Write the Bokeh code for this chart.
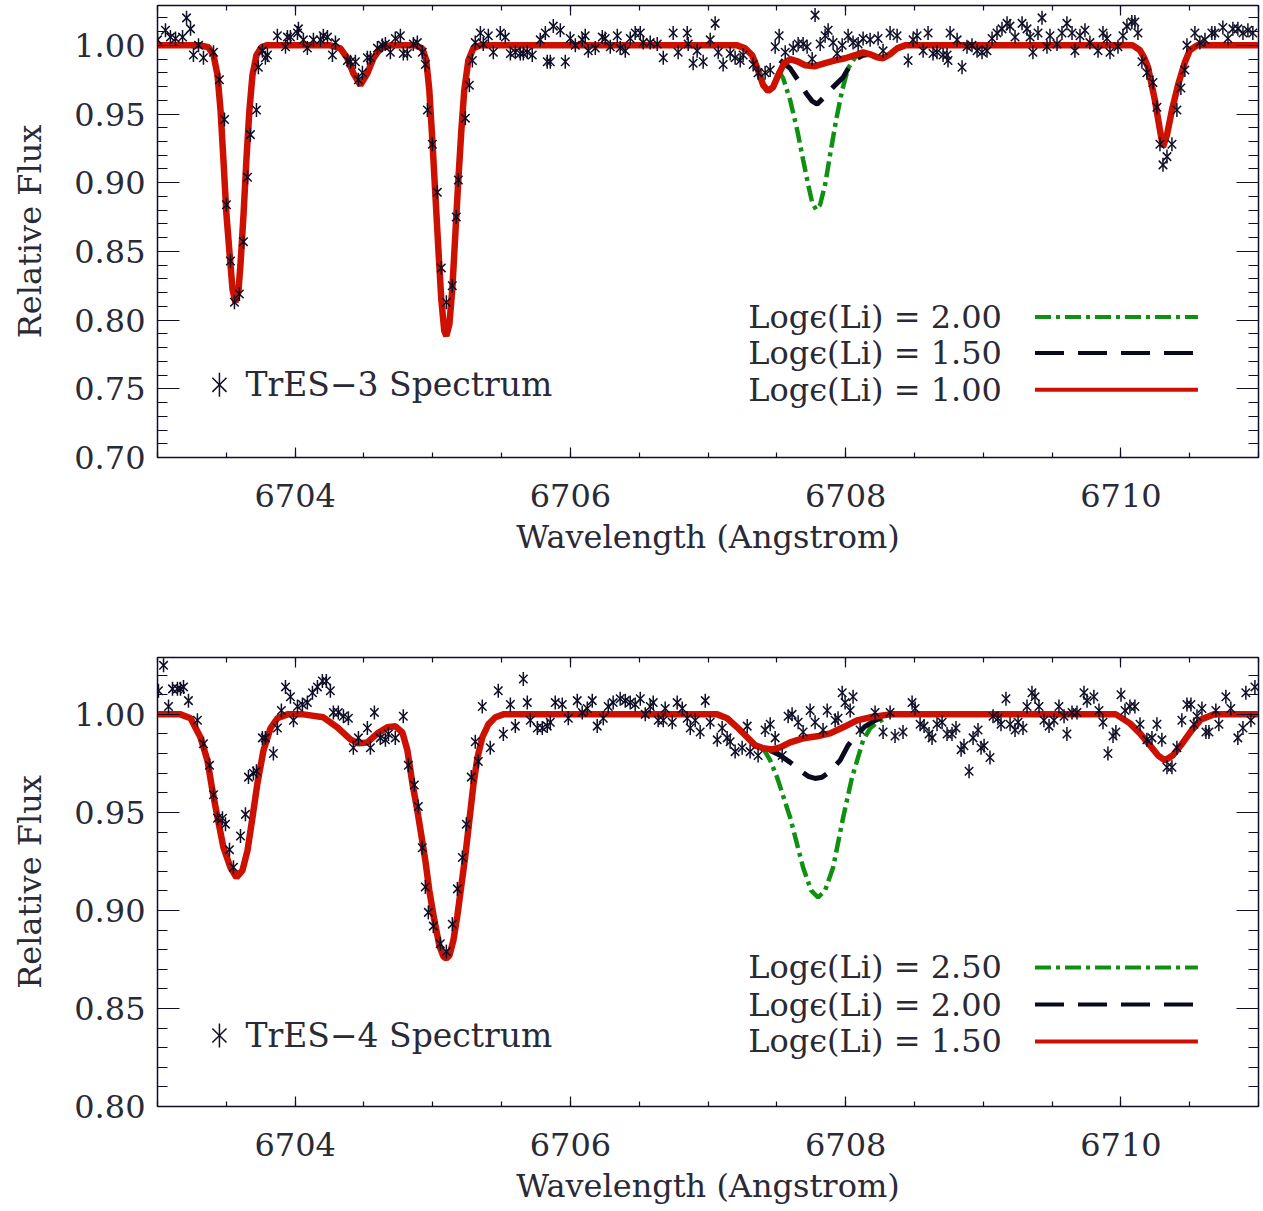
from bokeh.plotting import figure
from bokeh.models import (LinearAxis, SingleIntervalTicker, PrintfTickFormatter, Label,
                          CustomLabelingPolicy)
from bokeh.layouts import column
from bokeh.embed import file_html
from bokeh.resources import INLINE
import math

# ---------------- data: TrES-3 (top) ----------------
top_obs_x = [6703.000, 6703.058, 6703.094, 6703.131, 6703.182, 6703.211, 6703.240, 6703.261, 6703.298, 6703.334,
             6703.407, 6703.450, 6703.487, 6703.501, 6703.530, 6703.559, 6703.595, 6703.625, 6703.654, 6703.675,
             6703.719, 6703.733, 6703.762, 6703.784, 6703.799, 6703.871, 6703.930, 6703.944, 6703.966, 6704.017,
             6704.024, 6704.060, 6704.089, 6704.133, 6704.184, 6704.205, 6704.235, 6704.271, 6704.293, 6704.380,
             6704.402, 6704.438, 6704.460, 6704.489, 6704.525, 6704.547, 6704.598, 6704.634, 6704.656, 6704.692,
             6704.728, 6704.765, 6704.786, 6704.816, 6704.859, 6704.888, 6704.924, 6704.946, 6704.961, 6704.997,
             6705.033, 6705.062, 6705.099, 6705.142, 6705.171, 6705.186, 6705.237, 6705.266, 6705.288, 6705.309,
             6705.346, 6705.367, 6705.404, 6705.440, 6705.491, 6705.527, 6705.564, 6705.600, 6705.636, 6705.658,
             6705.687, 6705.723, 6705.781, 6705.818, 6705.832, 6705.854, 6705.876, 6705.927, 6705.963, 6705.999,
             6706.036, 6706.086, 6706.108, 6706.130, 6706.181, 6706.232, 6706.253, 6706.290, 6706.341, 6706.362,
             6706.399, 6706.435, 6706.471, 6706.508, 6706.529, 6706.580, 6706.631, 6706.675, 6706.747, 6706.783,
             6706.849, 6706.856, 6706.892, 6706.921, 6706.965, 6707.016, 6707.052, 6707.074, 6707.110, 6707.161,
             6707.197, 6707.234, 6707.255, 6707.328, 6707.364, 6707.415, 6707.452, 6707.488, 6707.517, 6707.561,
             6707.619, 6707.655, 6707.691, 6707.720, 6707.757, 6707.778, 6707.815, 6707.851, 6707.873, 6707.909,
             6707.938, 6707.975, 6708.018, 6708.054, 6708.091, 6708.127, 6708.178, 6708.236, 6708.272, 6708.323,
             6708.374, 6708.454, 6708.490, 6708.519, 6708.563, 6708.599, 6708.635, 6708.664, 6708.708, 6708.737,
             6708.744, 6708.759, 6708.810, 6708.846, 6708.882, 6708.918, 6708.955, 6708.991, 6709.027, 6709.064,
             6709.100, 6709.136, 6709.173, 6709.194, 6709.231, 6709.282, 6709.318, 6709.340, 6709.361, 6709.398,
             6709.427, 6709.463, 6709.485, 6709.536, 6709.572, 6709.608, 6709.645, 6709.666, 6709.703, 6709.739,
             6709.775, 6709.834, 6709.870, 6709.899, 6709.921, 6709.979, 6710.015, 6710.044, 6710.080, 6710.102,
             6710.124, 6710.153, 6710.189, 6710.233, 6710.262, 6710.284, 6710.306, 6710.335, 6710.371, 6710.407,
             6710.436, 6710.465, 6710.480, 6710.538, 6710.574, 6710.611, 6710.661, 6710.683, 6710.741, 6710.778,
             6710.814, 6710.850, 6710.887, 6710.923, 6710.959]
top_obs_y = [1.004, 1.011, 1.006, 1.005, 1.006, 1.020, 1.012, 0.993, 1.000, 0.991,
             0.995, 0.975, 0.946, 0.884, 0.843, 0.813, 0.819, 0.857, 0.904, 0.935,
             0.953, 0.984, 0.996, 0.991, 0.993, 1.007, 0.999, 1.006, 1.006, 1.009,
             1.012, 1.004, 0.998, 1.004, 1.004, 1.007, 1.006, 0.993, 1.002, 0.989,
             0.988, 0.988, 0.975, 0.980, 0.991, 0.991, 0.998, 1.000, 1.001, 0.995,
             1.005, 1.007, 0.994, 0.994, 1.001, 1.002, 0.995, 0.986, 0.953, 0.928,
             0.893, 0.838, 0.813, 0.825, 0.875, 0.902, 0.947, 0.971, 0.989, 1.002,
             1.009, 1.001, 1.007, 0.995, 1.009, 1.006, 0.994, 0.995, 0.994, 0.994,
             0.995, 0.993, 1.004, 1.009, 0.988, 0.988, 1.014, 1.011, 0.988, 1.005,
             1.000, 1.004, 1.007, 0.996, 0.998, 1.006, 1.005, 0.999, 1.007, 0.998,
             0.996, 1.005, 1.009, 1.009, 1.002, 1.002, 1.001, 0.991, 1.009, 0.995,
             1.009, 1.001, 0.987, 0.996, 0.988, 1.004, 1.016, 0.995, 0.986, 0.994,
             0.991, 0.989, 0.993, 0.986, 0.980, 0.980, 0.982, 0.999, 1.007, 0.995,
             0.998, 1.001, 1.001, 0.999, 0.990, 1.022, 1.001, 1.007, 1.011, 1.002,
             0.994, 1.000, 1.007, 1.002, 1.001, 1.005, 1.004, 1.005, 0.996, 1.009,
             1.007, 0.989, 1.004, 1.007, 0.996, 1.009, 0.994, 0.995, 0.993, 0.993,
             0.989, 1.009, 1.004, 0.984, 0.999, 1.000, 0.996, 0.995, 0.996, 1.005,
             1.009, 1.012, 1.016, 1.014, 1.006, 1.016, 1.012, 1.006, 0.995, 1.009,
             1.020, 0.999, 1.007, 1.001, 1.009, 1.016, 1.009, 0.996, 1.007, 1.011,
             1.002, 0.996, 1.009, 1.005, 0.995, 0.999, 1.007, 1.014, 1.017, 1.017,
             1.009, 0.988, 0.980, 0.973, 0.955, 0.928, 0.913, 0.919, 0.928, 0.953,
             0.969, 0.982, 1.000, 1.009, 1.002, 1.004, 1.009, 1.009, 1.013, 1.005,
             1.012, 1.012, 1.009, 1.011, 1.009]

# model, log eps(Li) = 1.00 (red)
top_m1_x = [6703.000, 6703.312, 6703.370, 6703.407, 6703.436, 6703.458, 6703.479, 6703.501, 6703.530, 6703.545,
            6703.566, 6703.588, 6703.603, 6703.625, 6703.646, 6703.668, 6703.690, 6703.719, 6703.755, 6703.792,
            6704.256, 6704.329, 6704.380, 6704.423, 6704.474, 6704.525, 6704.569, 6704.619, 6704.692,
            6704.874, 6704.924, 6704.953, 6704.975, 6704.997, 6705.019, 6705.041, 6705.062, 6705.084, 6705.099,
            6705.121, 6705.142, 6705.164, 6705.186, 6705.208, 6705.229, 6705.259, 6705.295, 6705.346,
            6707.212, 6707.270, 6707.321, 6707.364, 6707.401, 6707.437, 6707.473, 6707.510, 6707.553, 6707.597,
            6707.648, 6707.706, 6707.778, 6707.851, 6707.924, 6707.996, 6708.069, 6708.127, 6708.178, 6708.229,
            6708.272, 6708.323, 6708.374, 6708.432,
            6710.087, 6710.139, 6710.168, 6710.197, 6710.247, 6710.284, 6710.306, 6710.335, 6710.371, 6710.415,
            6710.465, 6710.501, 6710.553, 6711.000]
top_m1_y = [1.000, 1.000, 0.9986, 0.9928, 0.9783, 0.9529, 0.9167, 0.8768, 0.8406, 0.8225,
            0.8130, 0.8210, 0.8406, 0.8768, 0.9167, 0.9529, 0.9783, 0.9928, 0.9986, 1.000,
            1.000, 0.9978, 0.9906, 0.9797, 0.9710, 0.9797, 0.9906, 0.9978, 1.000,
            1.000, 0.9978, 0.9891, 0.9674, 0.9312, 0.8913, 0.8514, 0.8152, 0.7920, 0.7884,
            0.7971, 0.8225, 0.8623, 0.9022, 0.9384, 0.9674, 0.9891, 0.9978, 1.000,
            1.000, 0.9978, 0.9928, 0.9819, 0.9710, 0.9667, 0.9696, 0.9783, 0.9870, 0.9899,
            0.9884, 0.9855, 0.9848, 0.9870, 0.9891, 0.9906, 0.9928, 0.9949, 0.9935, 0.9913,
            0.9906, 0.9935, 0.9978, 1.000,
            1.000, 0.9964, 0.9913, 0.9841, 0.9601, 0.9384, 0.9261, 0.9348, 0.9529, 0.9710,
            0.9877, 0.9964, 1.000, 1.000]
# model, log eps(Li) = 1.50 (black dashed), where it departs from the red model
top_m2_x = [6707.524, 6707.597, 6707.655, 6707.713, 6707.757, 6707.793, 6707.837, 6707.909, 6707.982,
            6708.033, 6708.083, 6708.127, 6708.178]
top_m2_y = [0.9891, 0.9833, 0.9746, 0.9652, 0.9594, 0.9572, 0.9616, 0.9696, 0.9768,
            0.9855, 0.9906, 0.9928, 0.9935]
# model, log eps(Li) = 2.00 (green dash-dot)
top_m3_x = [6707.510, 6707.546, 6707.597, 6707.648, 6707.691, 6707.728, 6707.757, 6707.786, 6707.815,
            6707.851, 6707.887, 6707.931, 6707.975, 6708.018, 6708.069, 6708.120]
top_m3_y = [0.9819, 0.9761, 0.9601, 0.9384, 0.9167, 0.8986, 0.8855, 0.8804, 0.8841,
            0.8986, 0.9203, 0.9457, 0.9674, 0.9833, 0.9913, 0.9942]

# ---------------- data: TrES-4 (bottom) ----------------
bot_obs_x = [6703.007, 6703.044, 6703.080, 6703.109, 6703.145, 6703.167, 6703.189, 6703.225, 6703.290, 6703.334,
             6703.378, 6703.407, 6703.436, 6703.472, 6703.494, 6703.523, 6703.552, 6703.603, 6703.639, 6703.661,
             6703.697, 6703.719, 6703.762, 6703.784, 6703.842, 6703.871, 6703.900, 6703.930, 6703.966, 6703.988,
             6704.017, 6704.053, 6704.089, 6704.126, 6704.162, 6704.198, 6704.227, 6704.256, 6704.278, 6704.314,
             6704.351, 6704.387, 6704.423, 6704.460, 6704.525, 6704.547, 6704.576, 6704.619, 6704.656, 6704.678,
             6704.728, 6704.786, 6704.823, 6704.866, 6704.895, 6704.924, 6704.946, 6704.968, 6705.004, 6705.055,
             6705.099, 6705.142, 6705.179, 6705.215, 6705.244, 6705.280, 6705.309, 6705.331, 6705.360, 6705.418,
             6705.476, 6705.513, 6705.564, 6705.600, 6705.658, 6705.687, 6705.709, 6705.760, 6705.796, 6705.832,
             6705.854, 6705.890, 6705.941, 6705.985, 6706.050, 6706.086, 6706.123, 6706.159, 6706.195, 6706.239,
             6706.275, 6706.311, 6706.362, 6706.399, 6706.435, 6706.471, 6706.508, 6706.544, 6706.580, 6706.602,
             6706.638, 6706.675, 6706.689, 6706.740, 6706.776, 6706.813, 6706.849, 6706.871, 6706.907, 6706.943,
             6706.980, 6707.016, 6707.067, 6707.103, 6707.139, 6707.161, 6707.197, 6707.248, 6707.285, 6707.306,
             6707.364, 6707.415, 6707.452, 6707.488, 6707.539, 6707.582, 6707.611, 6707.655, 6707.691, 6707.742,
             6707.778, 6707.836, 6707.866, 6707.924, 6707.945, 6707.975, 6707.996, 6708.033, 6708.054, 6708.105,
             6708.214, 6708.272, 6708.323, 6708.359, 6708.417, 6708.483, 6708.505, 6708.541, 6708.570, 6708.606,
             6708.628, 6708.664, 6708.701, 6708.737, 6708.773, 6708.802, 6708.839, 6708.860, 6708.897, 6708.926,
             6708.962, 6708.984, 6709.006, 6709.049, 6709.071, 6709.107, 6709.129, 6709.165, 6709.195, 6709.231,
             6709.253, 6709.289, 6709.318, 6709.354, 6709.376, 6709.405, 6709.441, 6709.478, 6709.514, 6709.550,
             6709.587, 6709.608, 6709.645, 6709.681, 6709.732, 6709.754, 6709.804, 6709.841, 6709.870, 6709.906,
             6709.943, 6709.964, 6710.001, 6710.030, 6710.066, 6710.102, 6710.139, 6710.189, 6710.226, 6710.262,
             6710.298, 6710.335, 6710.371, 6710.407, 6710.443, 6710.480, 6710.509, 6710.531, 6710.553, 6710.589,
             6710.618, 6710.640, 6710.690, 6710.712, 6710.763, 6710.799, 6710.850, 6710.887, 6710.908, 6710.945,
             6710.974]
bot_obs_y = [1.012, 1.025, 1.004, 1.013, 1.013, 1.013, 1.014, 1.007, 0.997, 0.985,
             0.974, 0.959, 0.947, 0.947, 0.944, 0.931, 0.922, 0.938, 0.949, 0.968,
             0.970, 0.971, 0.988, 0.988, 0.980, 0.993, 1.002, 1.014, 1.009, 0.997,
             1.004, 1.005, 1.006, 1.011, 1.014, 1.017, 1.017, 1.012, 1.001, 1.001,
             0.999, 0.998, 0.983, 0.988, 0.993, 0.983, 1.001, 0.988, 0.987, 0.990,
             0.988, 0.999, 0.974, 0.964, 0.953, 0.932, 0.912, 0.899, 0.892, 0.883,
             0.879, 0.893, 0.911, 0.927, 0.944, 0.968, 0.986, 0.976, 1.004, 0.983,
             1.012, 0.990, 1.005, 0.994, 1.018, 1.006, 0.997, 0.993, 0.993, 0.994,
             0.996, 1.006, 1.005, 0.998, 1.007, 1.001, 1.003, 1.007, 0.994, 0.998,
             1.004, 1.006, 1.008, 1.007, 1.006, 1.005, 1.008, 1.000, 1.004, 1.006,
             0.997, 0.997, 1.003, 0.996, 1.006, 1.003, 0.998, 0.993, 0.997, 0.991,
             1.007, 0.996, 0.987, 0.993, 0.988, 0.986, 0.981, 0.983, 0.994, 0.981,
             0.979, 0.992, 0.995, 0.988, 0.979, 0.999, 1.000, 0.996, 0.991, 1.002,
             0.996, 0.992, 1.002, 0.997, 0.998, 1.011, 1.006, 1.002, 1.009, 0.992,
             1.001, 0.991, 1.001, 0.989, 0.991, 1.006, 1.003, 0.995, 0.994, 0.990,
             0.988, 0.995, 0.996, 0.990, 0.990, 0.993, 0.982, 0.984, 0.971, 0.988,
             0.992, 0.983, 0.984, 0.978, 0.999, 0.998, 0.995, 1.008, 0.995, 0.992,
             0.996, 0.993, 1.004, 1.011, 1.009, 1.004, 0.997, 0.994, 0.997, 1.004,
             0.999, 0.990, 1.001, 1.001, 1.011, 1.007, 1.009, 1.002, 0.996, 0.980,
             0.989, 0.991, 1.010, 1.002, 1.004, 1.004, 0.995, 0.987, 0.988, 0.995,
             0.987, 0.973, 0.973, 0.983, 0.997, 1.005, 1.005, 0.995, 0.999, 1.003,
             0.991, 0.991, 1.002, 0.995, 1.009, 1.003, 0.988, 0.993, 1.011, 0.997,
             1.014]

# model, log eps(Li) = 1.50 (red)
bot_m1_x = [6703.000, 6703.167, 6703.240, 6703.312, 6703.363, 6703.399, 6703.436, 6703.479, 6703.530, 6703.574,
            6703.617, 6703.654, 6703.690, 6703.726, 6703.770, 6703.821, 6703.871, 6703.944, 6704.060, 6704.205,
            6704.307, 6704.402, 6704.460, 6704.525, 6704.598, 6704.670, 6704.728, 6704.779, 6704.816,
            6704.852, 6704.888, 6704.917, 6704.946, 6704.975, 6705.012, 6705.048, 6705.077, 6705.099, 6705.121,
            6705.150, 6705.179, 6705.208, 6705.237, 6705.266, 6705.295, 6705.324, 6705.360, 6705.404, 6705.455,
            6705.513, 6707.067, 6707.139, 6707.212, 6707.285, 6707.343, 6707.401, 6707.466, 6707.524, 6707.597,
            6707.691, 6707.793, 6707.887, 6707.982, 6708.083, 6708.178, 6708.323,
            6709.964, 6710.066, 6710.139, 6710.211, 6710.269, 6710.320, 6710.378, 6710.436, 6710.509, 6710.582,
            6710.676, 6711.000]
bot_m1_y = [1.000, 1.000, 0.9980, 0.9883, 0.9765, 0.9612, 0.9474, 0.9321, 0.9219, 0.9168,
            0.9204, 0.9306, 0.9474, 0.9648, 0.9816, 0.9929, 0.9980, 1.000, 1.000, 0.9985,
            0.9934, 0.9872, 0.9852, 0.9857, 0.9903, 0.9934, 0.9939, 0.9908, 0.9816,
            0.9648, 0.9510, 0.9383, 0.9255, 0.9102, 0.8949, 0.8821, 0.8765, 0.8755, 0.8770,
            0.8847, 0.8974, 0.9128, 0.9281, 0.9459, 0.9638, 0.9776, 0.9883, 0.9949, 0.9985,
            1.000, 1.000, 0.9980, 0.9934, 0.9883, 0.9842, 0.9827, 0.9821, 0.9832, 0.9857,
            0.9878, 0.9888, 0.9903, 0.9934, 0.9969, 0.9985, 1.000,
            1.000, 0.9954, 0.9903, 0.9842, 0.9791, 0.9765, 0.9791, 0.9842, 0.9913, 0.9974,
            1.000, 1.000]
# model, log eps(Li) = 2.00 (black dashed)
bot_m2_x = [6707.452, 6707.524, 6707.597, 6707.670, 6707.728, 6707.778, 6707.829, 6707.887, 6707.960,
            6708.018, 6708.076, 6708.142, 6708.214, 6708.287]
bot_m2_y = [0.9816, 0.9791, 0.9755, 0.9714, 0.9684, 0.9673, 0.9679, 0.9709, 0.9765,
            0.9842, 0.9893, 0.9939, 0.9969, 0.9990]
# model, log eps(Li) = 2.50 (green dash-dot)
bot_m3_x = [6707.401, 6707.452, 6707.502, 6707.597, 6707.691, 6707.749, 6707.800, 6707.851, 6707.909,
            6707.982, 6708.047, 6708.127, 6708.178, 6708.229, 6708.287]
bot_m3_y = [0.9827, 0.9765, 0.9679, 0.9474, 0.9219, 0.9102, 0.9066, 0.9102, 0.9219,
            0.9474, 0.9679, 0.9867, 0.9929, 0.9959, 0.9980]

top_legend = ["Log\u03f5(Li)  =  2.00", "Log\u03f5(Li)  =  1.50", "Log\u03f5(Li)  =  1.00"]
bot_legend = ["Log\u03f5(Li)  =  2.50", "Log\u03f5(Li)  =  2.00", "Log\u03f5(Li)  =  1.50"]
top_name = "TrES\u22123  Spectrum"
bot_name = "TrES\u22124  Spectrum"

FONT = "DejaVu Serif"
INK = "#0e0e26"
TXT = "#2a2a36"
RED = "#cc1100"
GREEN = "#109010"
BLACK = "#0a0a1e"


def make_panel(height, ymin, bt, bb, obs_x, obs_y, m1x, m1y, m2x, m2y, m3x, m3y,
               legend, name, leg_y, name_y):
    p = figure(width=1263, height=height, x_range=(6703, 6711), y_range=(ymin, 1.029),
               output_backend="svg", toolbar_location=None,
               min_border_left=157, min_border_right=5, min_border_top=bt, min_border_bottom=bb)
    p.xgrid.visible = False
    p.ygrid.visible = False
    p.outline_line_color = INK
    p.outline_line_width = 1.5
    p.background_fill_color = "white"
    p.border_fill_color = "white"

    xt = SingleIntervalTicker(interval=2, num_minor_ticks=4)
    yt = SingleIntervalTicker(interval=0.05, num_minor_ticks=5)

    xa = p.xaxis[0]
    xa.ticker = xt
    xa.formatter = PrintfTickFormatter(format="%d")
    ya = p.yaxis[0]
    ya.ticker = yt
    ya.formatter = PrintfTickFormatter(format="%.2f")

    for ax, maj, mnr in ((xa, 10, 5), (ya, 22, 10)):
        ax.major_tick_in = maj
        ax.major_tick_out = 0
        ax.minor_tick_in = mnr
        ax.minor_tick_out = 0
        ax.axis_line_color = INK
        ax.major_tick_line_color = INK
        ax.minor_tick_line_color = INK
        ax.major_tick_line_width = 1.2
        ax.minor_tick_line_width = 1.2
        ax.major_label_text_font = FONT
        ax.major_label_text_font_size = "32px"
        ax.major_label_text_color = TXT
        ax.axis_label_text_font = FONT
        ax.axis_label_text_font_size = "32px"
        ax.axis_label_text_font_style = "normal"
        ax.axis_label_text_color = TXT
    xa.axis_label = "Wavelength (Angstrom)"
    xa.major_label_standoff = 26
    xa.axis_label_standoff = 8
    ya.axis_label = "Relative Flux"
    ya.major_label_standoff = 12
    ya.axis_label_standoff = 22

    # mirrored tick axes on top and right (ticks only, no labels)
    for loc, tk, maj, mnr in (("above", xt, 10, 5), ("right", yt, 22, 10)):
        ax = LinearAxis(ticker=tk, major_tick_in=maj, major_tick_out=0, minor_tick_in=mnr,
                        minor_tick_out=0, major_label_standoff=0, major_label_text_font_size="0px",
                        major_label_policy=CustomLabelingPolicy(code="return []"),
                        axis_line_color=INK, major_tick_line_color=INK, minor_tick_line_color=INK,
                        major_tick_line_width=1.2, minor_tick_line_width=1.2)
        p.add_layout(ax, loc)

    # models
    p.line(m3x, m3y, line_color=GREEN, line_width=4.5, line_dash="16 5 4 5")
    p.line(m2x, m2y, line_color=BLACK, line_width=5, line_dash="26 14")
    p.line(m1x, m1y, line_color=RED, line_width=6.5)

    # observations (IDL-style asterisk: x + vertical bar)
    p.scatter(obs_x, obs_y, marker="x", size=12, line_color=INK, line_width=1.5)
    p.scatter(obs_x, obs_y, marker="dash", angle=math.pi / 2, size=14, line_color=INK, line_width=1.5)

    # legend (drawn as annotations)
    leg_x = 6707.292
    for txt, yy in zip(legend, leg_y):
        p.add_layout(Label(x=leg_x, y=yy, text=txt, text_font=FONT, text_font_size="32px",
                           text_color=TXT, text_baseline="middle", text_align="left"))
    p.segment(x0=6709.376, y0=leg_y[0], x1=6710.56, y1=leg_y[0], line_color=GREEN, line_width=4,
              line_dash="16 5 4 5")
    p.segment(x0=6709.376, y0=leg_y[1], x1=6710.56, y1=leg_y[1], line_color=BLACK, line_width=4,
              line_dash="29 14")
    p.segment(x0=6709.376, y0=leg_y[2], x1=6710.56, y1=leg_y[2], line_color=RED, line_width=4)

    p.scatter([6703.45], [name_y], marker="x", size=20, line_color=INK, line_width=1.5)
    p.scatter([6703.45], [name_y], marker="dash", angle=math.pi / 2, size=24, line_color=INK, line_width=1.5)
    p.add_layout(Label(x=6703.639, y=name_y, text=name, text_font=FONT, text_font_size="33px",
                       text_color=TXT, text_baseline="middle", text_align="left"))
    return p


top = make_panel(650, 0.70, 5, 193, top_obs_x, top_obs_y, top_m1_x, top_m1_y, top_m2_x, top_m2_y,
                 top_m3_x, top_m3_y, top_legend, top_name, [0.8022, 0.7761, 0.7493], 0.7529)
bot = make_panel(561, 0.80, 7, 105, bot_obs_x, bot_obs_y, bot_m1_x, bot_m1_y, bot_m2_x, bot_m2_y,
                 bot_m3_x, bot_m3_y, bot_legend, bot_name, [0.8709, 0.8520, 0.8332], 0.8362)

layout = column(top, bot, spacing=0)
open("out.html", "w").write(file_html(layout, INLINE))
